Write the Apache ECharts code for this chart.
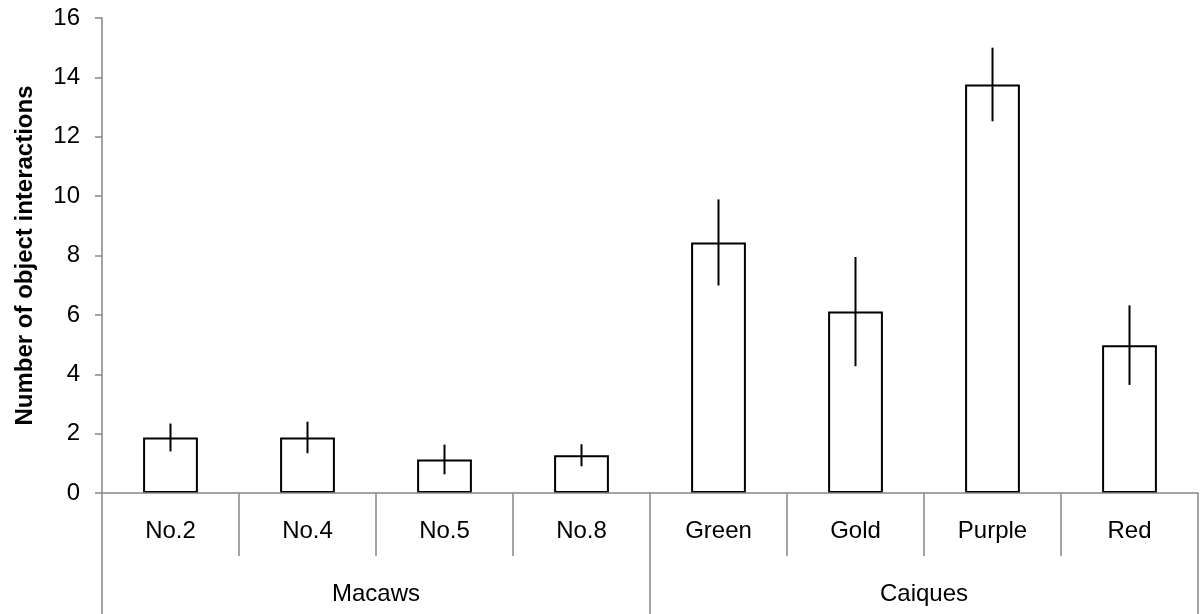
<!DOCTYPE html>
<html>
<head>
<meta charset="utf-8">
<script src="https://cdn.jsdelivr.net/npm/echarts@6/dist/echarts.min.js"></script>
<style>
html,body{margin:0;padding:0;background:#fff;}
#c{width:1201px;height:614px;}
</style>
</head>
<body>
<div id="c"></div>
<script>
const categories = ['No.2','No.4','No.5','No.8','Green','Gold','Purple','Red'];
const groups = ['Macaws','Caiques'];
const means = [1.87, 1.87, 1.13, 1.27, 8.44, 6.11, 13.76, 4.98];
const errors = [0.47, 0.53, 0.50, 0.37, 1.45, 1.84, 1.24, 1.34];
const yTicks = [0, 2, 4, 6, 8, 10, 12, 14, 16];

const FONT = '"Liberation Sans", Arial, sans-serif';
const AXIS_GRAY = '#868686';

const errData = categories.map((c, i) => [i, means[i] - errors[i], means[i] + errors[i]]);

const chart = echarts.init(document.getElementById('c'), null, {renderer: 'canvas'});
chart.setOption({
  animation: false,
  backgroundColor: '#ffffff',
  textStyle: {fontFamily: FONT},
  grid: {left: 102, right: 3, top: 18, bottom: 121, containLabel: false},
  xAxis: [
    {
      type: 'category',
      data: categories,
      position: 'bottom',
      z: 5,
      axisLine: {show: true, lineStyle: {color: AXIS_GRAY, width: 1.5}},
      axisTick: {show: true, interval: 0, length: 63, lineStyle: {color: AXIS_GRAY, width: 1.5}},
      axisLabel: {interval: 0, margin: 26, color: '#000', fontSize: 24, fontFamily: FONT},
      splitLine: {show: false}
    },
    {
      type: 'category',
      data: groups,
      position: 'bottom',
      z: 5,
      axisLine: {show: false},
      axisTick: {show: true, interval: 0, length: 122, lineStyle: {color: AXIS_GRAY, width: 1.5}},
      axisLabel: {interval: 0, margin: 89, color: '#000', fontSize: 24, fontFamily: FONT},
      splitLine: {show: false}
    }
  ],
  yAxis: {
    type: 'value',
    min: yTicks[0],
    max: yTicks[yTicks.length - 1],
    interval: yTicks[1] - yTicks[0],
    z: 5,
    name: 'Number of object interactions',
    nameLocation: 'middle',
    nameRotate: 90,
    nameGap: 65,
    nameTextStyle: {fontSize: 24, fontWeight: 'bold', color: '#000', fontFamily: FONT},
    axisLine: {show: true, lineStyle: {color: AXIS_GRAY, width: 1.5}},
    axisTick: {show: true, length: 7, lineStyle: {color: AXIS_GRAY, width: 1.5}},
    axisLabel: {margin: 22, color: '#000', fontSize: 24, fontFamily: FONT},
    splitLine: {show: false}
  },
  series: [
    {
      type: 'bar',
      xAxisIndex: 0,
      data: means,
      barWidth: '40%',
      itemStyle: {color: '#ffffff', borderColor: '#000000', borderWidth: 2}
    },
    {
      type: 'custom',
      xAxisIndex: 0,
      data: errData,
      z: 10,
      renderItem: function (params, api) {
        const x = api.value(0);
        const lo = api.coord([x, api.value(1)]);
        const hi = api.coord([x, api.value(2)]);
        return {
          type: 'line',
          shape: {x1: lo[0], y1: lo[1], x2: hi[0], y2: hi[1]},
          style: {stroke: '#000', lineWidth: 2}
        };
      }
    }
  ]
});
</script>
</body>
</html>
